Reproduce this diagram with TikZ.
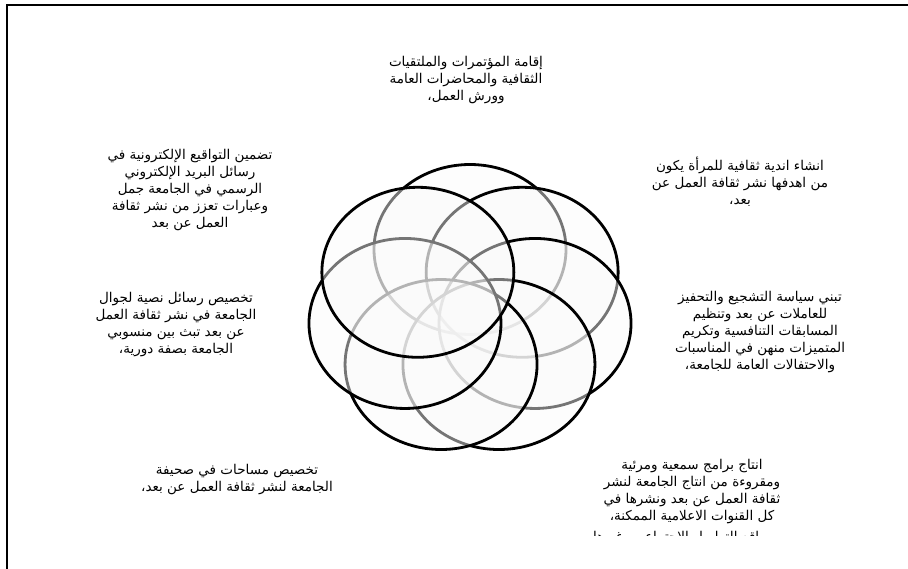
\documentclass[tikz,border=0pt]{standalone}
\usepackage{fontspec}
\newfontfamily\arabicfont[Script=Arabic]{DejaVu Sans}
\TeXXeTstate=1
\tikzset{
  ring/.style={draw=black, line width=2.8pt, fill=black!2, fill opacity=0.47, draw opacity=1},
  lbl/.style={font=\arabicfont\fontsize{13.5}{17}\selectfont, align=center, inner sep=0pt, text=black},
  frame/.style={draw=black, line width=2pt},
}
\begin{document}
\begin{tikzpicture}[x=1pt,y=-1pt]
\useasboundingbox (0,0) rectangle (908,568);
\draw[frame] (7,570) -- (7,5) -- (910,5);
\foreach \k in {0,...,6} {
  \pgfmathsetmacro\ang{90-360/7*\k}
  \path[ring] ({470+66.7*cos(\ang)},{310-60.5*sin(\ang)}) ellipse [x radius=96, y radius=85];
}
\node[lbl] (top) at (466,80) {\beginR إقامة المؤتمرات والملتقيات\endR\\\beginR الثقافية والمحاضرات العامة\endR\\\beginR وورش العمل،\endR};
\node[lbl] (ur) at (740,182) {\beginR انشاء اندية ثقافية للمرأة يكون\endR\\\beginR من اهدفها نشر ثقافة العمل عن\endR\\\beginR بعد،\endR};
\node[lbl] (rt) at (760,332) {\beginR تبني سياسة التشجيع والتحفيز\endR\\\beginR للعاملات عن بعد وتنظيم\endR\\\beginR المسابقات التنافسية وتكريم\endR\\\beginR المتميزات منهن في المناسبات\endR\\\beginR والاحتفالات العامة للجامعة،\endR};
\node[lbl] (lr) at (692,492) {\beginR انتاج برامج سمعية ومرئية\endR\\\beginR ومقروءة من انتاج الجامعة لنشر\endR\\\beginR ثقافة العمل عن بعد ونشرها في\endR\\\beginR كل القنوات الاعلامية الممكنة،\endR};
\begin{scope}
\clip (560,526) rectangle (820,535);
\node[lbl] (lrcut) at (692,538) {\beginR من مواقع التواصل الاجتماعي وغيرها،\endR};
\end{scope}
\node[lbl] (ll) at (237,480) {\beginR تخصيص مساحات في صحيفة\endR\\\beginR الجامعة لنشر ثقافة العمل عن بعد،\endR};
\node[lbl] (lf) at (176,325) {\beginR تخصيص رسائل نصية لجوال\endR\\\beginR الجامعة في نشر ثقافة العمل\endR\\\beginR عن بعد تبث بين منسوبي\endR\\\beginR الجامعة بصفة دورية،\endR};
\node[lbl] (ul) at (190,190) {\beginR تضمين التواقيع الإلكترونية في\endR\\\beginR رسائل البريد الإلكتروني\endR\\\beginR الرسمي في الجامعة جمل\endR\\\beginR وعبارات تعزز من نشر ثقافة\endR\\\beginR العمل عن بعد\endR};
\end{tikzpicture}
\end{document}
